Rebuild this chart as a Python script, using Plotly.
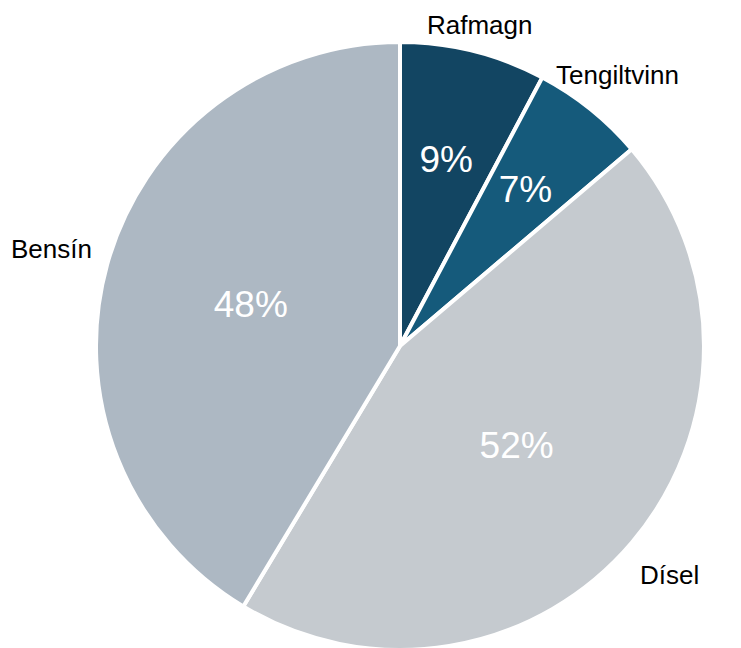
import math
import plotly.graph_objects as go

categories = ["Rafmagn", "Tengiltvinn", "Dísel", "Bensín"]
values = [9, 7, 52, 48]
pct_labels = ["9%", "7%", "52%", "48%"]
colors = ["#124562", "#155a7b", "#c5cacf", "#adb8c3"]

W, H = 741, 648
CX, CY = 0.529, 0.4784          # pie centre (paper)
R = 304                         # pie radius (px)
R_INNER = 238                   # radius of helper pie for the small-slice percentages
LABEL_BASE, LABEL_SIDE = 321, 42  # label distance from centre: base + extra for side labels (px)
FONT = "Liberation Sans, Arial"


def dom(r):
    return dict(x=[CX - r / W, CX + r / W], y=[CY - r / H, CY + r / H])


big = [v >= 20 for v in values]
fig = go.Figure()
# slices, with percentages for the large slices
fig.add_trace(go.Pie(
    labels=categories, values=values, sort=False, direction="clockwise", rotation=0,
    text=[t if b else "" for t, b in zip(pct_labels, big)], textinfo="text",
    textposition="inside", insidetextorientation="horizontal",
    marker=dict(colors=colors, line=dict(color="#ffffff", width=4)),
    insidetextfont=dict(family=FONT, size=37, color="#ffffff"),
    domain=dom(R), showlegend=False,
))
# transparent helper pie carrying the percentages of the small slices
fig.add_trace(go.Pie(
    labels=categories, values=values, sort=False, direction="clockwise", rotation=0,
    text=[t if not b else "" for t, b in zip(pct_labels, big)], textinfo="text",
    textposition="inside", insidetextorientation="horizontal",
    marker=dict(colors=["rgba(0,0,0,0)"] * len(values), line=dict(width=0)),
    insidetextfont=dict(family=FONT, size=37, color="#ffffff"),
    domain=dom(R_INNER), showlegend=False, hoverinfo="skip",
))

# category labels outside the pie, placed at each slice's mid-angle
total = sum(values)
cum = 0
for name, v in zip(categories, values):
    ang = 2 * math.pi * (cum + v / 2) / total
    cum += v
    dist = LABEL_BASE + LABEL_SIDE * abs(math.sin(ang))
    fig.add_annotation(
        x=CX + dist * math.sin(ang) / W,
        y=CY + dist * math.cos(ang) / H,
        xref="paper", yref="paper", text=name, showarrow=False,
        xanchor="center", yanchor="middle", borderpad=0,
        font=dict(family=FONT, size=26, color="#000000"),
    )

fig.update_layout(
    width=W, height=H,
    margin=dict(l=0, r=0, t=0, b=0),
    paper_bgcolor="#ffffff", plot_bgcolor="#ffffff",
    showlegend=False,
)
fig.write_html("out.html")
